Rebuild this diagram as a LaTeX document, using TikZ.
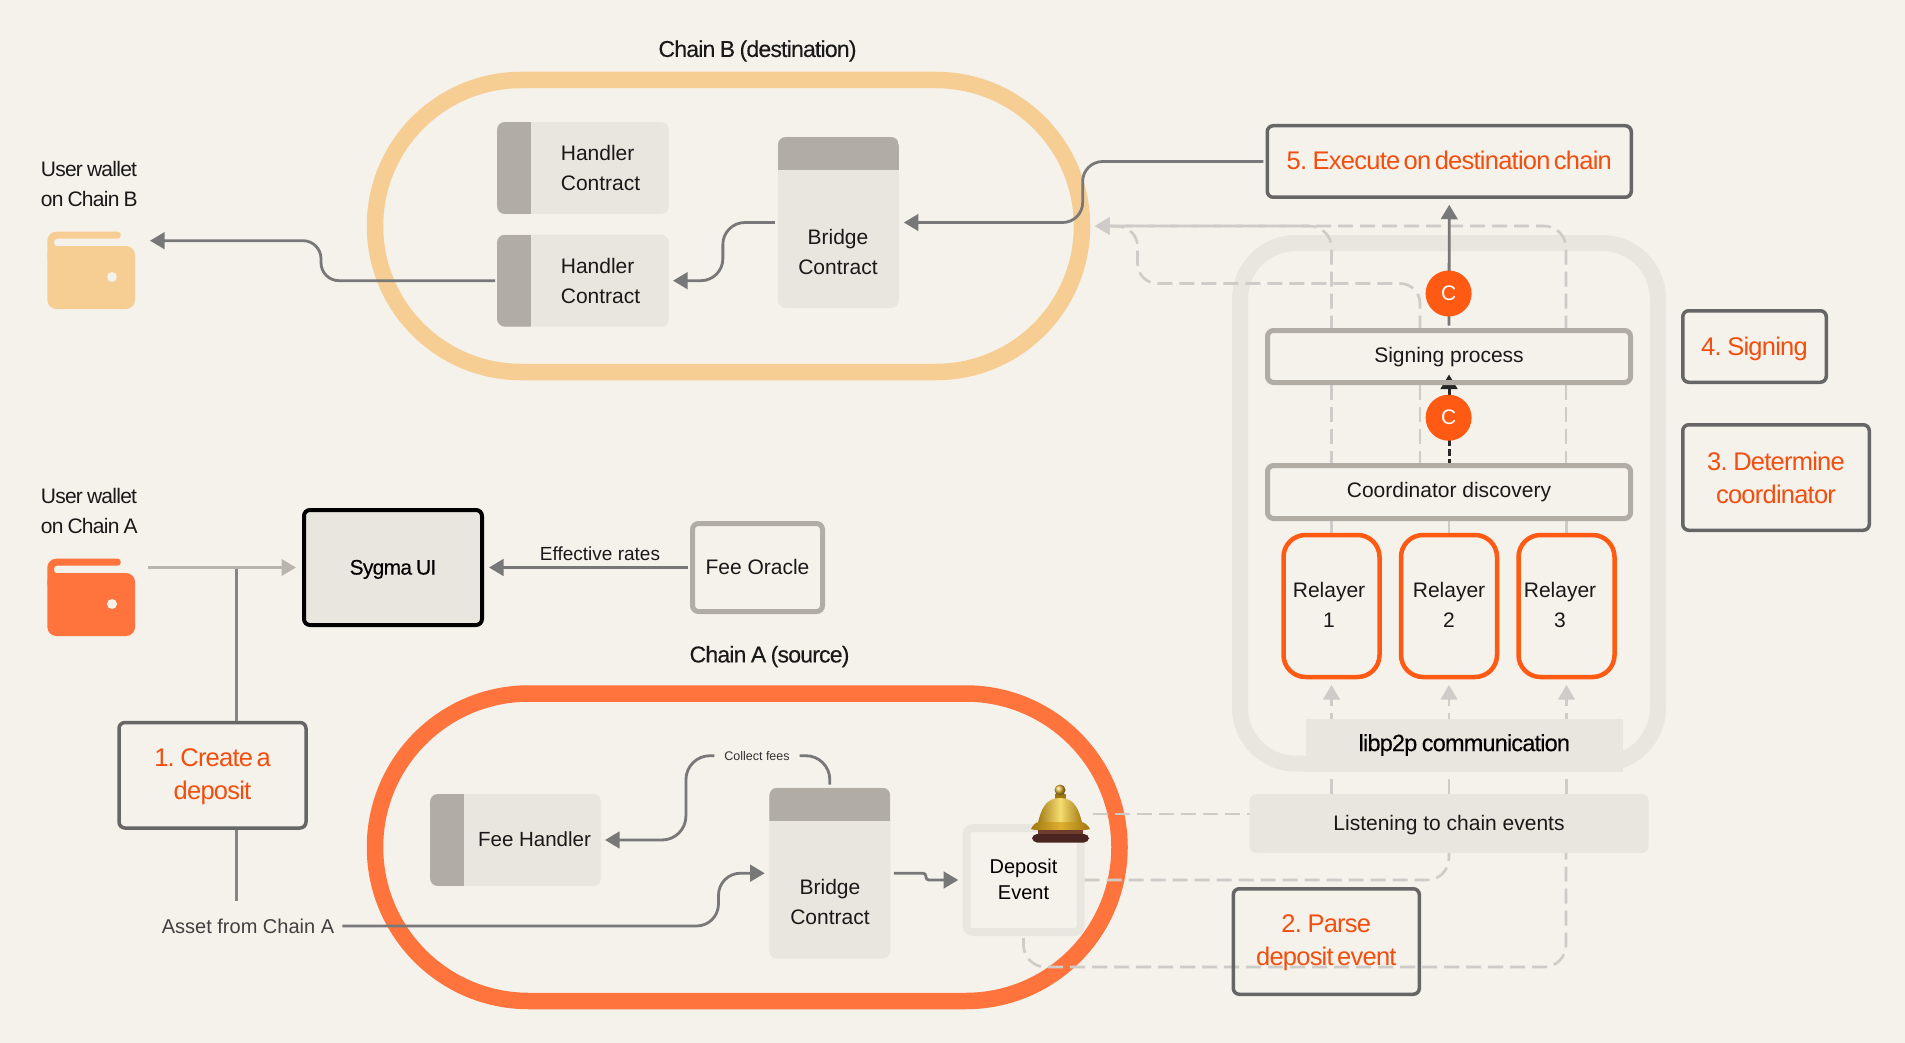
\documentclass[tikz,border=0pt]{standalone}
\usepackage{fontspec}
\setmainfont{Liberation Sans}
\newfontfamily\tightfont[LetterSpace=-3.5,WordSpace=0.8]{Liberation Sans}
\newfontfamily\mediumfont[LetterSpace=-3.5,WordSpace=0.8,FakeBold=0.25]{Liberation Sans}
\newfontfamily\steptight[LetterSpace=-3,WordSpace=0.55]{Liberation Sans}
\usepackage{tikz}
\usetikzlibrary{arrows.meta,positioning,backgrounds}

\definecolor{paper}{HTML}{F5F1EB}
\definecolor{panel}{HTML}{E9E5DF}
\definecolor{strip}{HTML}{B1ACA4}
\definecolor{sand}{HTML}{F6CE94}
\definecolor{tangerine}{HTML}{FF733D}
\definecolor{flame}{HTML}{FF5A14}
\definecolor{steptext}{HTML}{F24E0E}
\definecolor{stepedge}{HTML}{666666}
\definecolor{wire}{HTML}{787878}
\definecolor{ghost}{HTML}{CDCCC9}
\definecolor{bellgold}{HTML}{DDB030}
\definecolor{bellshine}{HTML}{F5DC70}
\definecolor{belldark}{HTML}{A07810}
\definecolor{bellwood}{HTML}{4A2420}
\definecolor{bellwoodtop}{HTML}{6E3B2C}

\begin{document}
\begin{tikzpicture}[
    x=1pt, y=-1pt,
    every node/.style={outer sep=0pt},
    bodytxt/.style={font=\fontsize{21}{30}\selectfont, text=black!90, align=center},
    labeltxt/.style={font=\tightfont\fontsize{21}{30.5}\selectfont, text=black!90, align=left},
    headtxt/.style={font=\mediumfont\fontsize{23}{30}\selectfont, text=black!90},
    steptxt/.style={font=\steptight\fontsize{25.5}{33}\selectfont, text=steptext, align=center},
    stepbox/.style={draw=stepedge, line width=3.5pt, rounded corners=6pt, steptxt, inner sep=0pt},
    graybox/.style={draw=strip, line width=5pt, rounded corners=6pt, bodytxt, inner sep=0pt},
    ring/.style={draw=#1, line width=16.5pt, inner sep=0pt},
    handlerbox/.style={fill=panel, rounded corners=8pt, inner sep=0pt, minimum height=92pt,
        path picture={\fill[strip, sharp corners] (path picture bounding box.north west) rectangle
            ([xshift=34pt]path picture bounding box.south west);}},
    bridgebox/.style={fill=panel, rounded corners=8pt, inner sep=0pt, minimum width=121pt, minimum height=171pt,
        path picture={\fill[strip, sharp corners] (path picture bounding box.north west) rectangle
            ([yshift=-33.5pt]path picture bounding box.north east);}},
    relayer/.style={draw=flame, line width=4.5pt, rounded corners=22pt, inner sep=0pt, minimum width=96pt, minimum height=142pt},
    coin/.style={circle, fill=flame, text=white, inner sep=0pt, minimum size=46pt, font=\fontsize{21}{21}\selectfont},
    line/.style={-{Triangle[length=14.5pt,width=16.5pt]}, draw=wire, line width=2.8pt},
    dashroute/.style={draw=ghost, line width=2.6pt, dash pattern=on 15pt off 7pt},
    dashtip/.style={dashroute, -{Triangle[length=14.5pt,width=16.5pt,fill=ghost]}},
    walletflap/.pic={
        \fill[#1] [rounded corners=9pt] (0,28) -- (0,0) [rounded corners=3pt] -- (73.4,0) -- (73.4,7)
            -- (6.7,7) -- (6.7,14.5) -- (25,14.5) -- (25,28) -- cycle;
    }
]
\useasboundingbox (0,0) rectangle (1905,1043);

\begin{pgfonlayer}{background}
\fill[paper] (0,0) rectangle (1905,1043);
\node[ring=sand, minimum width=707pt, minimum height=292pt, rounded corners=146pt] (ringb) at (728.5,226) {};
\node[ring=tangerine, minimum width=744.5pt, minimum height=307.5pt, rounded corners=153.75pt] (ringa) at (747.25,847.25) {};
\node[draw=panel, line width=16pt, inner sep=0pt, minimum width=418pt, minimum height=520.7pt, rounded corners=56pt] (relayframe) at (1449,503.35) {};
\end{pgfonlayer}

% chain B
\node[headtxt] (chainb) at (757.5,51) {Chain B (destination)};
\node[handlerbox, minimum width=172pt] (handlerone) at (583,168) {};
\node[handlerbox, minimum width=172pt, below=20.7pt of handlerone] (handlertwo) {};
\node[bridgebox] (bridgeb) at (838.35,222.5) {};
\node[bodytxt, align=left, anchor=west] (handleronetxt) at (557.5,168) {Handler\\Contract};
\node[bodytxt, align=left, anchor=west] (handlertwotxt) at (557.5,280.7) {Handler\\Contract};
\node[bodytxt] (bridgebtxt) at (838,251.7) {Bridge\\Contract};

% wallets
\node[labeltxt, anchor=west] (walletbtxt) at (37.5,184) {User wallet\\on Chain B};
\node[fill=sand, rounded corners=9pt, inner sep=0pt, minimum width=87.7pt, minimum height=63pt] (walletb) at (91.2,277.5) {};
\pic at (47.3,231.7) {walletflap=sand};
\fill[paper] (112,277) circle (5pt);
\node[labeltxt, anchor=west] (walletatxt) at (37.5,511) {User wallet\\on Chain A};
\node[fill=tangerine, rounded corners=9pt, inner sep=0pt, minimum width=87.7pt, minimum height=63pt] (walleta) at (91.2,604.5) {};
\pic at (47.3,558.7) {walletflap=tangerine};
\fill[paper] (112,604) circle (5pt);

% UI and oracle
\node[draw=black, fill=panel, line width=4pt, rounded corners=6pt, inner sep=0pt, minimum width=178pt, minimum height=115pt,
    font=\mediumfont\fontsize{21}{30}\selectfont, text height=18.5pt] (sygma) at (393,567.5) {Sygma UI};
\node[graybox, minimum width=130pt, minimum height=88pt, text depth=1.5pt] (oracle) at (757.5,567.5) {Fee Oracle};
\node[font=\fontsize{19}{24}\selectfont, text=black!90] (rates) at (600,554) {Effective rates};

% chain A
\node[headtxt] (chaina) at (769.5,656.5) {Chain A (source)};
\node[handlerbox, minimum width=171pt] (feehandler) at (515.5,840) {};
\node[bodytxt, font=\fontsize{20.5}{30}\selectfont] (feehandlertxt) at (534.5,839.5) {Fee Handler};
\node[bridgebox] (bridgea) at (829.8,873.2) {};
\node[bodytxt] (bridgeatxt) at (830,902) {Bridge\\Contract};
\node[draw=panel, line width=8pt, rounded corners=6pt, inner sep=0pt, minimum width=114pt, minimum height=104pt,
    font=\fontsize{20}{26}\selectfont, align=center, text depth=1pt] (deposit) at (1023.5,880) {Deposit\\Event};
\node[font=\fontsize{12.5}{15}\selectfont, text=black!80, inner xsep=10pt] (collect) at (757,755.7) {Collect fees};
\node[font=\fontsize{20}{24}\selectfont, text=black!75] (asset) at (248,926) {Asset from Chain A};

% relayers
\node[graybox, minimum width=363pt, minimum height=53pt] (coorddisc) at (1449,492) {Coordinator discovery};
\node[graybox, minimum width=363pt, minimum height=52pt, above=83pt of coorddisc, text height=17pt] (signing) {Signing process};
\node[relayer] (relayone) at (1331.5,606) {};
\node[relayer, right=21.5pt of relayone] (relaytwo) {};
\node[relayer, right=21.5pt of relaytwo] (relaythree) {};
\node[bodytxt] (relayonetxt) at (1329,605) {Relayer\\1};
\node[bodytxt] (relaytwotxt) at (1449,605) {Relayer\\2};
\node[bodytxt] (relaythreetxt) at (1560,605) {Relayer\\3};
\node[fill=panel, inner sep=0pt, minimum width=317.4pt, minimum height=53pt,
    font=\mediumfont\fontsize{23.5}{30}\selectfont] (libptwop) at (1464.3,745) {libp2p communication};
\node[fill=panel, rounded corners=7pt, inner sep=0pt, minimum width=399pt, minimum height=59pt, bodytxt, text height=19pt] (listening) at (1449,823.5) {Listening to chain events};

% numbered steps
\node[stepbox, minimum width=187pt, minimum height=105.5pt] (stepone) at (212.5,775.25) {\rule{0pt}{21pt}1. Create a\\deposit};
\node[stepbox, minimum width=186pt, minimum height=105.5pt] (steptwo) at (1326.3,941.5) {\rule{0pt}{20pt}2. Parse\\deposit event};
\node[stepbox, minimum width=186.5pt, minimum height=105.5pt] (stepthree) at (1776,477.5) {3. Determine\\coordinator};
\node[stepbox, minimum width=143.5pt, minimum height=71.5pt, text height=23pt] (stepfour) at (1754.5,346.5) {4. Signing};
\node[stepbox, minimum width=364pt, minimum height=71.5pt, text depth=2.4pt] (stepfive) at (1449.25,161.5) {5. Execute on destination chain};

% coordinator marks
\node[coin] (coinsign) at (1448.6,293.5) {C};
\node[coin] (coindisc) at (1448.6,417.7) {C};

% bell
\fill[belldark] (1054.5,794) rectangle (1065.5,799);
\shade[ball color=bellgold] (1060,790) circle (5.5pt);
\shade[left color=belldark, right color=belldark, middle color=bellshine]
    (1037,827) .. controls (1041,808) and (1046,798) .. (1060,798) .. controls (1074,798) and (1079,808) .. (1083,827) -- cycle;
\shade[left color=belldark, right color=belldark, middle color=bellgold]
    (1031,829) .. controls (1033,825) and (1036,822) .. (1039,822) -- (1081,822)
    .. controls (1084,822) and (1088,825) .. (1090,829) .. controls (1080,832) and (1040,832) .. (1031,829) -- cycle;
\fill[bellwoodtop] (1038,830) rectangle (1083,835);
\fill[bellwood, rounded corners=5pt] (1032,834) rectangle (1089,842.5);

\begin{pgfonlayer}{background}
\coordinate (bellside) at (1093,814);
\coordinate (walletjoin) at (236.3,569);
\coordinate (assetjoin) at (236.3,901);

% dashed event routes
\draw[dashtip] (listening.north -| relayone.south) -- ([yshift=-8]relayone.south);
\draw[dashtip] (listening.north -| relaytwo.south) -- ([yshift=-8]relaytwo.south);
\draw[dashtip] (listening.north -| relaythree.south) -- ([yshift=-8]relaythree.south);
\draw[dashroute] (relayone.north) -- (coorddisc.south -| relayone.north);
\draw[dashroute] (relaytwo.north) -- (coorddisc.south -| relaytwo.north);
\draw[dashroute] (relaythree.north) -- (coorddisc.south -| relaythree.north);
\draw[dashroute] ([xshift=-117.5]coorddisc.north) -- ([xshift=-117.5]signing.south);
\draw[dashroute] ([xshift=-29]coorddisc.north) -- ([xshift=-29]signing.south);
\draw[dashroute] ([xshift=117]coorddisc.north) -- ([xshift=117]signing.south);
\draw[dashtip, rounded corners=22pt] ([xshift=-117.5]signing.north) |- ([xshift=13]ringb.east);
\draw[dashtip, rounded corners=22pt] ([xshift=117]signing.north) |- ([xshift=13]ringb.east);
\draw[dashtip, rounded corners=20pt] ([xshift=-29]signing.north) -- ++(0,-47) -| ++(-282.5,-57) -- ([xshift=13]ringb.east);
\draw[dashroute] (bellside) -- ([yshift=9.5]listening.west);
\draw[dashroute, rounded corners=22pt] ([xshift=4]deposit.east) -| (listening.south);
\draw[dashroute, rounded corners=22pt] ([yshift=-6]deposit.south) -- ++(0,29) -| ([xshift=117]listening.south);

% solid connectors
\draw[line, rounded corners=18pt] ([xshift=-2]handlertwo.west) -- ++(-174,0) |- ([xshift=15,yshift=36.8]walletb.east);
\draw[line, rounded corners=20pt] ([xshift=-4]stepfive.west) -- ++(-180.6,0) |- ([xshift=5]bridgeb.east);
\draw[line, rounded corners=22pt] ([xshift=-3]bridgeb.west) -- ++(-52,0) |- ([xshift=4]handlertwo.east);
\draw[line] ([xshift=-5]oracle.west) -- ([xshift=7]sygma.east);
\draw[line, draw=strip!90!white] ([xshift=13,yshift=37]walleta.east) -- ([xshift=-8]sygma.west);
\draw[draw=wire!90!white, line width=2.8pt] ([xshift=23.8]stepone.north) -- (walletjoin);
\draw[draw=wire!90!white, line width=2.8pt] ([xshift=23.8]stepone.south) -- (assetjoin);
\draw[line, rounded corners=22pt] ([xshift=5]asset.east) -- ++(376,0) |- ([xshift=-4.6]bridgea.west);
\draw[line, rounded corners=3pt] ([xshift=3.6]bridgea.east) -- ++(32,0) |- ([xshift=-8.3]deposit.west);
\draw[draw=wire, line width=2.8pt, rounded corners=24pt] ([yshift=3]bridgea.north) |- (collect.east);
\draw[line, rounded corners=24pt] (collect.west) -- ++(-28.4,0) |- ([xshift=4]feehandler.east);
\draw[line] ([yshift=5]signing.north) -- ([yshift=-7.5]stepfive.south);
\draw[line, draw=black!85, line width=3pt, dash pattern=on 7pt off 3pt] (coorddisc.north) -- ([yshift=8]signing.south);
\end{pgfonlayer}
\end{tikzpicture}
\end{document}
